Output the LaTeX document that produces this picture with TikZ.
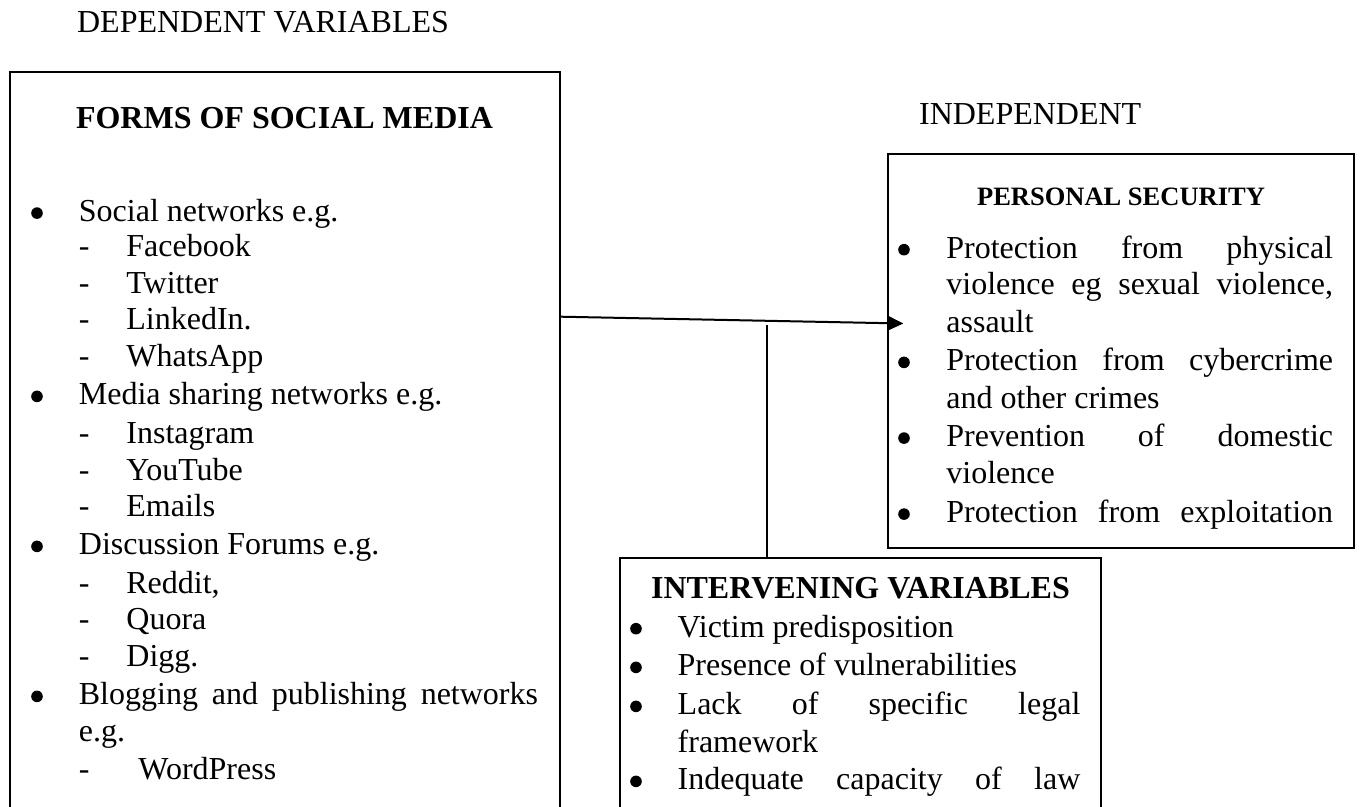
\documentclass[tikz,border=0pt]{standalone}
\usepackage{fontspec}
\setmainfont{Liberation Serif}
\usetikzlibrary{fit,arrows.meta}
\begin{document}
\begin{tikzpicture}[x=0.5pt,y=-0.5pt,
  txt/.style={anchor=base west, inner sep=0pt, font=\fontsize{16}{18}\selectfont},
  dot/.style={circle, fill=black, inner sep=0pt, minimum size=5.8pt, yshift=4.3pt},
  head/.style={anchor=base, inner sep=0pt, font=\fontsize{16}{18}\selectfont\bfseries},
  subhead/.style={anchor=base, inner sep=0pt, font=\fontsize{13.25}{15}\selectfont\bfseries},
  frame/.style={draw, line width=1pt, inner sep=0pt},
  link/.style={line width=1pt},
]
\useasboundingbox (0,0) rectangle (1362,807);
\begin{scope}
\clip (0,0) rectangle (1362,807);

% column captions
\node[txt] (deplabel) at (76.7,32.3) {DEPENDENT VARIABLES};
\node[txt] (indlabel) at (918.7,125) {INDEPENDENT};

% boxes
\node[frame, fit={(9.6,71.7) (559.5,820)}] (forms) {};
\node[frame, fit={(888.3,154) (1354,548.3)}] (ps) {};
\node[frame, fit={(620,558.5) (1101,820)}] (inter) {};

% forms of social media
\node[head] (formstitle) at (284.5,128.3) {FORMS OF SOCIAL MEDIA};
\foreach \y/\t [count=\i] in {221.7/{Social networks e.g.},405/{Media sharing networks e.g.},555/{Discussion Forums e.g.}}{
  \node[dot] (fb\i) at (37,\y) {};
  \node[txt] (ft\i) at (78.5,\y) {\t};
}
\node[dot] (fb4) at (37,705) {};
\node[txt] (ft4) at (78.5,705) {\makebox[229.6pt][s]{Blogging and publishing networks}};
\node[txt] (ft5) at (78.5,741.7) {e.g.};
\foreach \y/\t [count=\i] in {257/Facebook,293.3/Twitter,330/{LinkedIn.},366.7/WhatsApp,443.3/Instagram,480.7/YouTube,516.7/Emails,593.3/{Reddit,},630/Quora,666.7/{Digg.}}{
  \node[txt] (fd\i) at (78.5,\y) {-};
  \node[txt] (fs\i) at (126,\y) {\t};
}
\node[txt] (fd11) at (78.5,779.3) {-};
\node[txt] (fs11) at (138,779.3) {WordPress};

% personal security
\node[subhead] (pstitle) at (1121,206) {PERSONAL SECURITY};
\foreach \y [count=\i] in {258.3,371,446.7,522.7}{
  \node[dot] (pb\i) at (904,\y) {};
}
\node[txt] (pt1) at (946,258.3) {\makebox[193.35pt][s]{Protection from physical}};
\node[txt] (pt2) at (946,295) {\makebox[193.35pt][s]{violence eg sexual violence,}};
\node[txt] (pt3) at (946,332.7) {assault};
\node[txt] (pt4) at (946,371) {\makebox[193.35pt][s]{Protection from cybercrime}};
\node[txt] (pt5) at (946,408.3) {and other crimes};
\node[txt] (pt6) at (946,446.7) {\makebox[193.35pt][s]{Prevention of domestic}};
\node[txt] (pt7) at (946,484) {violence};
\node[txt] (pt8) at (946,522.7) {\makebox[193.35pt][s]{Protection from exploitation}};

% intervening variables
\node[head] (intitle) at (860.5,599) {INTERVENING VARIABLES};
\foreach \y [count=\i] in {637.3,676,715,790}{
  \node[dot] (ib\i) at (636,\y) {};
}
\node[txt] (it1) at (677.3,637.3) {Victim predisposition};
\node[txt] (it2) at (677.3,676) {Presence of vulnerabilities};
\node[txt] (it3) at (677.3,715) {\makebox[201.35pt][s]{Lack of specific legal}};
\node[txt] (it4) at (677.3,752.3) {framework};
\node[txt] (it5) at (677.3,790) {\makebox[201.35pt][s]{Indequate capacity of law}};

% connectors
\coordinate (srcy) at (0,316.7);
\coordinate (dsty) at (0,323.5);
\coordinate (vtop) at (766.5,325);
\draw[link, -{Triangle[length=8pt,width=7.5pt]}] (forms.east |- srcy) -- ([xshift=8pt]ps.west |- dsty);
\draw[link] (vtop) -- (vtop |- inter.north);
\end{scope}
\end{tikzpicture}
\end{document}
